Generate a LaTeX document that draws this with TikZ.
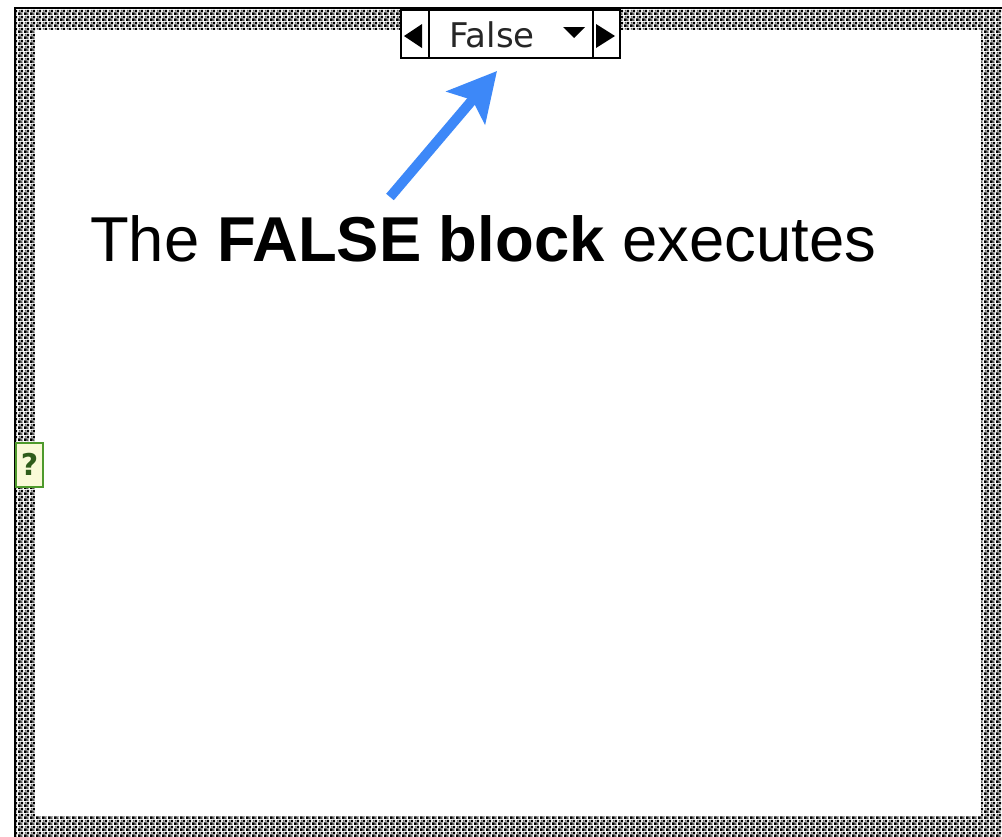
\documentclass[tikz,border=0pt]{standalone}
\usepackage{fontspec}
\setmainfont{Liberation Sans}
\newfontfamily\uifont{DejaVu Sans}
\usetikzlibrary{arrows.meta,patterns.meta}
\definecolor{arrowblue}{HTML}{3D88F8}
\definecolor{qgreen}{HTML}{4E9A2C}
\definecolor{qfill}{HTML}{FAFAD8}
\tikzdeclarepattern{name=lvborder, type=uncolored,
  bottom left={(0pt,0pt)}, top right={(6pt,6pt)}, tile size={(6pt,6pt)},
  code={\fill (0pt,0pt) rectangle (3pt,3pt); \fill (3pt,3pt) rectangle (6pt,6pt);
        \fill (4pt,0pt) rectangle (5pt,2pt); \fill (1pt,4pt) rectangle (2pt,6pt);
        \fill (3pt,1pt) rectangle (4pt,2pt);}}
\tikzset{
  selbox/.style={draw=black, line width=2pt, fill=white, inner sep=0pt},
  selarrow/.style={fill=black},
  qbox/.style={draw=qgreen, line width=2pt, fill=qfill, minimum width=27pt, minimum height=44pt, inner sep=0pt, text=qgreen!60!black, font=\uifont\bfseries\fontsize{30}{30}\selectfont},
  pointer/.style={draw=arrowblue, line width=10pt, -{Stealth[length=48pt,width=50pt,inset=10pt]}},
}
\begin{document}
\begin{tikzpicture}[x=1pt,y=-1pt]
\useasboundingbox (0,0) rectangle (1002,836);
% patterned frame
\fill[pattern=lvborder, pattern color=black] (15,8) rectangle (1010,845);
\fill[white] (35,30) rectangle (981,816);
\draw[line width=2pt] (15,845) -- (15,8) -- (1010,8);
% case selector
\node[selbox, minimum width=219pt, minimum height=48pt] (sel) at (510.5,34) {};
\draw[line width=2pt] (429,10) -- (429,58);
\draw[line width=2pt] (593,10) -- (593,58);
\fill[selarrow] (404,36) -- (422,24) -- (422,48) -- cycle;
\fill[selarrow] (615,36) -- (596,24) -- (596,48) -- cycle;
\fill[selarrow] (563,27) -- (585,27) -- (574,38) -- cycle;
\node[anchor=base, font=\uifont\fontsize{34}{34}\selectfont, text=black!85] (ftext) at (492,47) {False};
% selector terminal
\node[qbox] (q) at (29.5,464.5) {?};
% label
\node[anchor=base west, inner sep=0pt, font=\fontsize{63.4}{70}\selectfont] (label) at (90,261) {The \textbf{FALSE block} executes};
% pointer
\coordinate (tail) at (390,197);
\coordinate (tip) at (497,71);
\draw[pointer] (tail) -- (tip);
\end{tikzpicture}
\end{document}
